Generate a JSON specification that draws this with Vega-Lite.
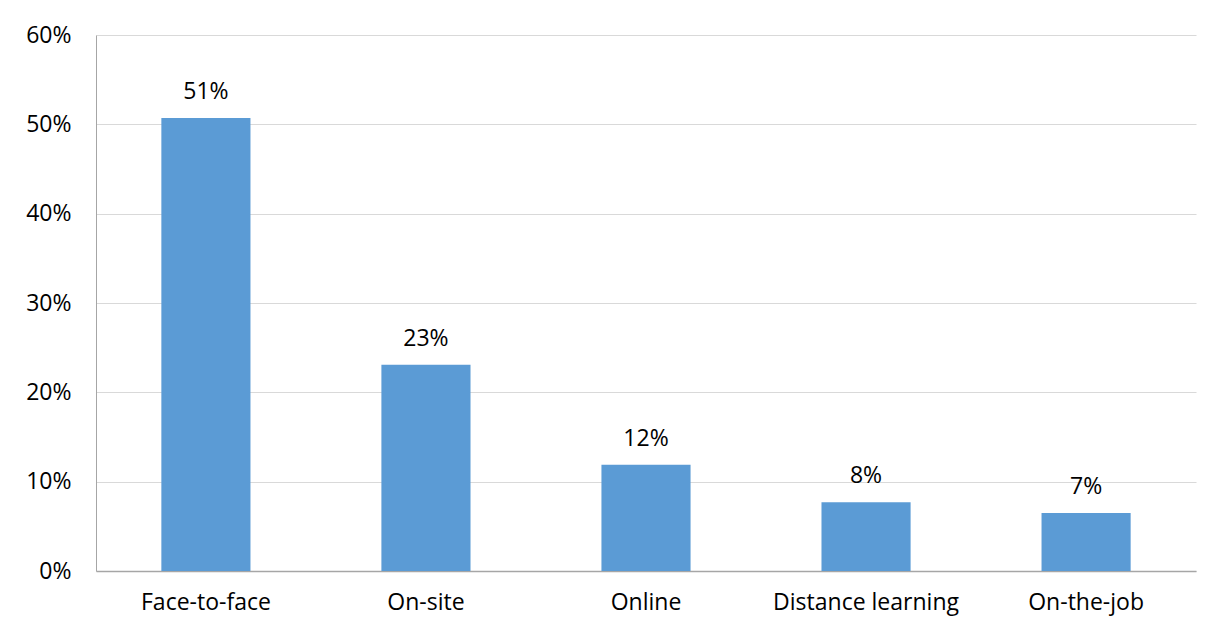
{
  "$schema": "https://vega.github.io/schema/vega-lite/v6.json",
  "width": 1100,
  "height": 536,
  "autosize": "none",
  "padding": {"left": 96, "top": 35, "right": 25, "bottom": 63},
  "background": "white",
  "config": {
    "view": {"stroke": null},
    "font": "Open Sans"
  },
  "data": {
    "values": [
      {"method": "Face-to-face", "share": 0.507, "label": "51%"},
      {"method": "On-site", "share": 0.231, "label": "23%"},
      {"method": "Online", "share": 0.119, "label": "12%"},
      {"method": "Distance learning", "share": 0.077, "label": "8%"},
      {"method": "On-the-job", "share": 0.065, "label": "7%"}
    ]
  },
  "encoding": {
    "x": {
      "field": "method",
      "type": "nominal",
      "sort": null,
      "scale": {"paddingInner": 0.595, "paddingOuter": 0.297},
      "axis": {
        "title": null,
        "labelAngle": 0,
        "labelFont": "Open Sans",
        "labelFontSize": 23,
        "labelColor": "#000000",
        "labelPadding": 20,
        "labelLimit": 400,
        "labelOverlap": false,
        "ticks": false,
        "domainColor": "#a6a6a6",
        "domainWidth": 1.3
      }
    },
    "y": {
      "field": "share",
      "type": "quantitative",
      "scale": {"domain": [0, 0.6]},
      "axis": {
        "title": null,
        "format": ".0%",
        "values": [0, 0.1, 0.2, 0.3, 0.4, 0.5, 0.6],
        "labelFont": "Open Sans",
        "labelFontSize": 23,
        "labelColor": "#000000",
        "labelPadding": 25,
        "ticks": false,
        "domainColor": "#a6a6a6",
        "grid": true,
        "gridColor": "#d9d9d9",
        "gridWidth": 1
      }
    }
  },
  "layer": [
    {"mark": {"type": "bar", "color": "#5b9bd5"}},
    {
      "mark": {"type": "text", "baseline": "bottom", "dy": -14, "fontSize": 23, "font": "Open Sans", "color": "#000000"},
      "encoding": {"text": {"field": "label"}}
    }
  ]
}
